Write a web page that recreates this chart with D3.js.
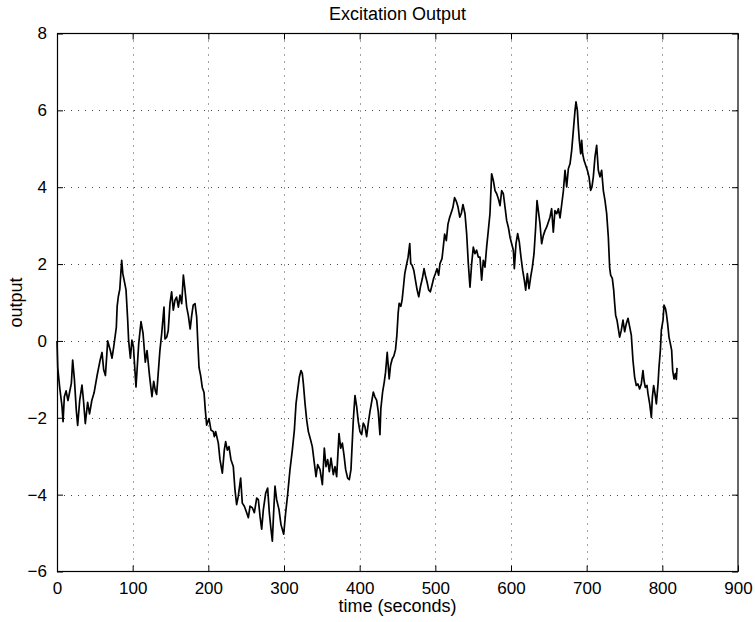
<!DOCTYPE html>
<html>
<head>
<meta charset="utf-8">
<script src="https://cdn.jsdelivr.net/npm/d3@7"></script>
<style>
  html, body { margin: 0; padding: 0; background: #fff; }
  svg { display: block; }
  text { font-family: "Liberation Sans", Arial, Helvetica, sans-serif; fill: #000; }
</style>
</head>
<body>
<svg id="chart" width="755" height="622"></svg>
<script>
// Excitation output over time (seconds)
const timeSec = [
  0, 1, 3.5, 6.6, 8, 9.7, 12, 14.5, 16, 19, 20.7, 23, 25.5, 27.3, 30, 33, 35, 37.4, 40.5, 43,
  46, 49, 53, 57, 59.5, 61.7, 64, 67, 70.5, 72.7, 75, 78.4, 79.5, 81, 83, 85.5, 87, 88.5, 90, 91.2,
  93.4, 94.7, 97, 99, 101, 104.4, 108, 111, 113.7, 116.7, 119, 122.5, 125.5, 127.8, 130, 131.7, 134, 136, 138.3, 141.4,
  142.7, 145, 147, 149.3, 151.5, 153.7, 155.9, 158, 160.4, 162.6, 164.8, 167, 169, 171.4, 173.6, 176, 178, 180, 182.4, 184.6,
  186, 187.7, 189.9, 192, 194.3, 196, 197.8, 200.9, 203.5, 206.6, 207.9, 209.7, 213.2, 215.4, 218.5, 221.1, 222.9, 225.1, 227.3, 229.9,
  233, 235.2, 237.4, 239.6, 242.7, 244.9, 247.6, 250.7, 252.9, 255.1, 258.1, 260.8, 263.9, 266.1, 268.3, 270.5, 272.7, 275.8, 278.4, 280.6,
  282.8, 284.6, 286.3, 288.1, 290.3, 293.4, 296, 299.6, 302.2, 304.8, 307.9, 311, 313.7, 315.9, 318.1, 320.3, 322.5, 324.2, 325.6, 327.8,
  330, 332.2, 335.2, 337.4, 340.1, 342.3, 344.5, 347.6, 350.7, 353.3, 355.5, 357.7, 359.9, 362.1, 365.2, 367.4, 369.6, 372.7, 374.9, 377.1,
  379.3, 381.5, 384.1, 386.3, 388.5, 391.6, 393.8, 396, 398.2, 400.4, 402.6, 404.8, 407, 409.2, 411.4, 413.6, 415.8, 418, 420.2, 422.4,
  424.6, 426.8, 428, 430.3, 432.5, 434.2, 436.4, 437.7, 439, 440.8, 443, 445.2, 447.4, 449.1, 450.9, 452.2, 454.4, 456.1, 457.9, 459.6,
  461.8, 464, 466.2, 467.5, 469.3, 471.5, 473.7, 475.9, 478.1, 480.3, 482.9, 485.1, 486.8, 489, 491.2, 493.4, 495.6, 497.8, 500, 502.2,
  504.4, 506.1, 508.8, 510.5, 512.3, 514.5, 516.7, 518.9, 521.1, 523.2, 525.4, 527.6, 529.8, 532.3, 534.5, 536.5, 539.2, 541.4, 543.6, 545.8,
  548, 550.2, 552.4, 554.6, 556.8, 559, 561.2, 563.4, 565.6, 567.8, 570, 572.2, 574.4, 576.7, 578.9, 581.1, 583.3, 585.5, 587.7, 589.9,
  592.1, 594.3, 596.5, 598.7, 600.9, 603.1, 604.4, 606.6, 608.8, 611, 613.2, 615.4, 617.6, 619.4, 621.6, 623.8, 626, 628.2, 630.4, 632.6,
  634.4, 636.1, 638.3, 640.5, 642.7, 644.9, 647.1, 649.3, 651.5, 653.7, 655.9, 658.1, 660.4, 662.6, 664.8, 667, 669.2, 671.4, 673.6, 675.8,
  678, 680.2, 682.4, 684.6, 685.9, 687.7, 689, 690.3, 692.1, 693.4, 694.7, 696.5, 698.7, 700.9, 703.1, 705.3, 707, 708.8, 711, 713.2,
  715.4, 717.6, 719.8, 722, 724.2, 726.4, 728.6, 730.4, 731.7, 733.9, 735.7, 737, 738.3, 740.1, 741.4, 743.6, 745.8, 748, 750.2, 752.4,
  754.6, 756.8, 759, 761.2, 763.4, 765.6, 767.8, 770, 772.2, 774.4, 775.8, 777.5, 779.7, 781.1, 783.3, 785.5, 786.8, 788.5, 790.7, 792.1,
  794.3, 795.6, 797.4, 798.7, 800.9, 802.2, 804, 805.3, 807, 808.8, 810.6, 812.3, 813.7, 815.4, 817.2, 818.5, 819.4
];

const outputVal = [
  0.0, -0.7, -1.2, -1.7, -2.1, -1.45, -1.3, -1.55, -1.4, -1.1, -0.5, -1.0, -1.8, -2.2, -1.55, -1.15, -1.55, -2.15, -1.6, -1.9,
  -1.55, -1.35, -0.9, -0.5, -0.3, -0.75, -0.9, 0.0, -0.25, -0.45, -0.15, 0.35, 0.9, 1.15, 1.35, 2.1, 1.75, 1.6, 1.45, 1.33,
  0.55, 0.0, -0.45, 0.02, -0.15, -1.2, -0.07, 0.5, 0.2, -0.55, -0.25, -0.95, -1.45, -1.05, -1.3, -1.39, -0.78, -0.25, 0.18, 0.88,
  0.05, 0.1, 0.27, 0.97, 1.28, 0.8, 1.06, 1.14, 0.88, 1.19, 0.97, 1.71, 1.36, 0.88, 0.66, 0.31, 0.66, 0.93, 0.97, 0.62,
  0.0, -0.69, -0.91, -1.21, -1.34, -1.8, -2.19, -2.02, -2.32, -2.36, -2.49, -2.36, -2.66, -3.09, -3.44, -2.84, -2.62, -2.84, -2.75, -3.09,
  -3.27, -3.87, -4.26, -4.04, -3.57, -4.22, -4.3, -4.47, -4.6, -4.3, -4.34, -4.47, -4.09, -4.13, -4.56, -4.9, -4.39, -3.96, -3.83, -4.47,
  -4.9, -5.21, -4.47, -3.78, -4.13, -4.39, -4.78, -5.03, -4.47, -4.0, -3.35, -2.84, -2.32, -1.63, -1.28, -0.94, -0.77, -0.85, -1.11, -1.63,
  -2.06, -2.36, -2.58, -2.75, -3.18, -3.53, -3.22, -3.35, -3.74, -2.79, -3.27, -3.09, -3.4, -3.05, -3.48, -3.27, -3.53, -2.41, -2.79, -2.66,
  -2.97, -3.35, -3.57, -3.61, -3.35, -2.06, -1.42, -1.7, -2.1, -2.36, -2.44, -2.14, -2.23, -2.49, -2.14, -1.84, -1.59, -1.33, -1.46, -1.54,
  -1.84, -2.44, -1.76, -1.33, -1.07, -0.82, -0.3, -0.64, -0.99, -0.64, -0.47, -0.39, -0.22, 0.13, 0.73, 0.98, 0.9, 1.07, 1.41, 1.75,
  1.97, 2.18, 2.53, 2.01, 1.97, 1.84, 1.58, 1.33, 1.15, 1.41, 1.63, 1.88, 1.71, 1.54, 1.33, 1.28, 1.45, 1.63, 1.75, 1.88,
  1.71, 2.01, 2.14, 2.44, 2.78, 2.61, 3.04, 3.21, 3.34, 3.47, 3.73, 3.64, 3.5, 3.22, 3.33, 3.55, 3.31, 2.79, 2.01, 1.4,
  2.01, 2.44, 2.27, 2.36, 2.18, 2.18, 1.58, 2.1, 1.92, 2.44, 2.87, 3.31, 4.35, 4.17, 3.91, 3.83, 3.7, 3.52, 3.91, 3.83,
  3.48, 3.13, 2.96, 2.7, 2.53, 2.36, 1.88, 2.53, 2.79, 2.57, 2.18, 1.84, 1.58, 1.32, 1.75, 1.36, 1.66, 1.92, 2.27, 2.96,
  3.65, 3.39, 3.05, 2.53, 2.74, 2.87, 2.96, 3.09, 3.22, 3.44, 2.83, 3.39, 3.31, 3.44, 3.2, 3.55, 3.9, 4.44, 4.01, 4.48,
  4.61, 4.96, 5.48, 6.0, 6.22, 6.0, 5.57, 5.22, 4.87, 5.22, 4.87, 4.7, 4.57, 4.44, 4.27, 3.92, 4.01, 4.27, 4.79, 5.09,
  4.44, 4.27, 4.44, 3.92, 3.66, 3.32, 2.71, 1.9, 1.71, 1.63, 1.33, 0.98, 0.67, 0.54, 0.37, 0.1, 0.28, 0.54, 0.24, 0.45,
  0.59, 0.37, 0.15, -0.51, -0.94, -1.16, -1.12, -1.25, -1.12, -0.77, -1.03, -1.21, -1.16, -1.38, -1.64, -1.99, -1.47, -1.16, -1.42, -1.64,
  -1.12, -0.68, -0.24, 0.28, 0.54, 0.93, 0.85, 0.72, 0.45, 0.1, -0.07, -0.24, -0.77, -0.99, -0.85, -1.0, -0.7
];

const xTicks = [0, 100, 200, 300, 400, 500, 600, 700, 800, 900];
const yTicks = [-6, -4, -2, 0, 2, 4, 6, 8];

const titleText = "Excitation Output";
const xLabelText = "time (seconds)";
const yLabelText = "output";

const svg = d3.select("#chart");
const plotL = 57, plotR = 738, plotT = 33.5, plotB = 571.5;

const x = d3.scaleLinear().domain([0, 900]).range([plotL, plotR]);
const y = d3.scaleLinear().domain([-6, 8]).range([plotB, plotT]);

const fmt = v => (v < 0 ? "\u2212" + Math.abs(v) : String(v));

// dotted grid
const grid = svg.append("g").attr("stroke", "#444").attr("stroke-width", 1)
  .attr("stroke-dasharray", "1,6");
grid.selectAll("line.vx").data(xTicks.slice(1, -1)).join("line")
  .attr("x1", d => Math.round(x(d)) + 0.5).attr("x2", d => Math.round(x(d)) + 0.5)
  .attr("y1", plotT).attr("y2", plotB);
grid.selectAll("line.hy").data(yTicks.slice(1, -1)).join("line")
  .attr("y1", d => Math.round(y(d)) + 0.5).attr("y2", d => Math.round(y(d)) + 0.5)
  .attr("x1", plotL).attr("x2", plotR);

// axes with inward ticks on all four sides
const tickLen = 6;
const xAxisB = d3.axisBottom(x).tickValues(xTicks).tickSizeInner(-tickLen).tickSizeOuter(0).tickPadding(10).tickFormat(fmt);
const xAxisT = d3.axisTop(x).tickValues(xTicks).tickSizeInner(-tickLen).tickSizeOuter(0).tickFormat("");
const yAxisL = d3.axisLeft(y).tickValues(yTicks).tickSizeInner(-tickLen).tickSizeOuter(0).tickPadding(10).tickFormat(fmt);
const yAxisR = d3.axisRight(y).tickValues(yTicks).tickSizeInner(-tickLen).tickSizeOuter(0).tickFormat("");

function styleAxis(g) {
  g.select(".domain").remove();
  g.selectAll(".tick line").attr("stroke", "#000");
  g.selectAll(".tick text").style("font-size", "17px").attr("fill", "#000");
}

svg.append("g").attr("transform", `translate(0,${plotB})`).call(xAxisB).call(styleAxis)
  .selectAll(".tick text").attr("dy", "0.71em");
svg.append("g").attr("transform", `translate(0,${plotT})`).call(xAxisT).call(styleAxis);
svg.append("g").attr("transform", `translate(${plotL},0)`).call(yAxisL).call(styleAxis);
svg.append("g").attr("transform", `translate(${plotR},0)`).call(yAxisR).call(styleAxis);

// plot box
svg.append("rect")
  .attr("x", plotL + 0.5).attr("y", plotT).attr("width", plotR - plotL - 0.5).attr("height", plotB - plotT)
  .attr("fill", "none").attr("stroke", "#000").attr("stroke-width", 1.2);

// signal trace
const series = timeSec.map((t, i) => [t, outputVal[i]]);
const line = d3.line().x(d => x(d[0])).y(d => y(d[1]));
svg.append("path")
  .datum(series)
  .attr("d", line)
  .attr("fill", "none")
  .attr("stroke", "#000")
  .attr("stroke-width", 1.7)
  .attr("stroke-linejoin", "round");

// titles
svg.append("text").attr("x", (plotL + plotR) / 2).attr("y", 20)
  .attr("text-anchor", "middle").style("font-size", "18px").text(titleText);
svg.append("text").attr("x", (plotL + plotR) / 2).attr("y", 612)
  .attr("text-anchor", "middle").style("font-size", "18px").text(xLabelText);
svg.append("text")
  .attr("transform", `translate(22,${(plotT + plotB) / 2}) rotate(-90)`)
  .attr("text-anchor", "middle").style("font-size", "18px").text(yLabelText);
</script>
</body>
</html>
